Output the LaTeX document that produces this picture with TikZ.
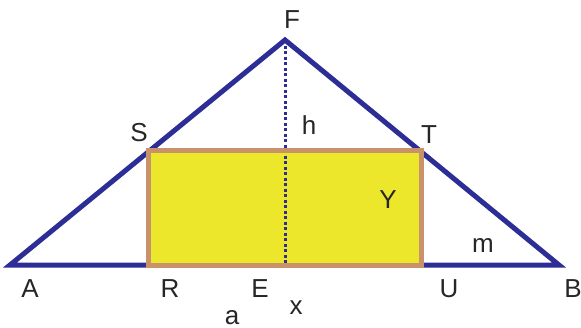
\documentclass[tikz,border=0pt]{standalone}
\usepackage{fontspec}
\setmainfont{Liberation Sans}
\definecolor{triblue}{RGB}{45,45,150}
\definecolor{rectbrown}{RGB}{200,146,106}
\definecolor{rectyellow}{RGB}{237,231,44}
\tikzset{
  lbl/.style={anchor=base, inner sep=0pt, font=\fontsize{26}{28}\selectfont, text=black!85},
  triline/.style={draw=triblue, line width=5pt, line join=miter},
  rectline/.style={draw=rectbrown, line width=5pt},
  heightline/.style={draw=triblue, line width=3pt, dash pattern=on 3pt off 2.5pt}
}
\begin{document}
\begin{tikzpicture}[x=1pt,y=-1pt]
\useasboundingbox (0,0) rectangle (581,327);
\coordinate (A) at (10,265);
\coordinate (B) at (559,265);
\coordinate (F) at (285,40);
\coordinate (S) at (148,150);
\coordinate (T) at (421,150);
\coordinate (R) at (148,265);
\coordinate (U) at (421,265);
\coordinate (E) at (285,265);
\draw[triline] (A) -- (F) -- (B) -- cycle;
\fill[rectyellow] (R) rectangle (T);
\draw[heightline] (F) -- (E);
\draw[rectline] (R) rectangle (T);
\node[lbl] (lA) at (30,297) {A};
\node[lbl] (lR) at (170,297) {R};
\node[lbl] (lE) at (260,297) {E};
\node[lbl] (lU) at (449,297) {U};
\node[lbl] (lB) at (573,297) {B};
\node[lbl] (lF) at (292,28) {F};
\node[lbl] (lS) at (139,141) {S};
\node[lbl] (lT) at (429,143) {T};
\node[lbl] (lh) at (309,134) {h};
\node[lbl] (lY) at (388,208) {Y};
\node[lbl] (lm) at (483,252) {m};
\node[lbl] (lx) at (296,314) {x};
\node[lbl] (la) at (232,324) {a};
\end{tikzpicture}
\end{document}
